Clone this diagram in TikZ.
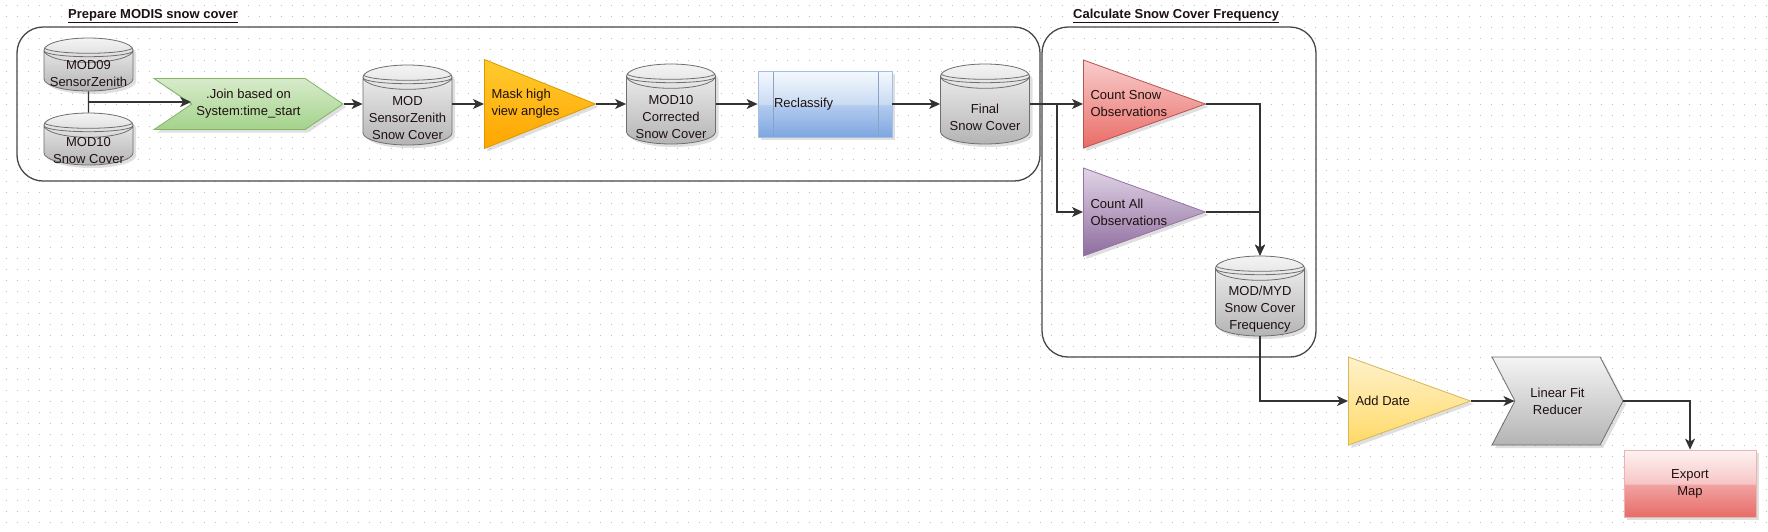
\documentclass[tikz,border=0pt]{standalone}
\usepackage{fontspec}
\setmainfont{Liberation Sans}
\usetikzlibrary{shapes.geometric,shapes.symbols,arrows.meta,shadows,calc}

\definecolor{linecol}{HTML}{333333}
\definecolor{txtcol}{HTML}{1E1010}
\definecolor{dbline}{HTML}{6E6E6E}
\definecolor{dbtop}{HTML}{F4F4F4}
\definecolor{dbbot}{HTML}{B4B4B4}
\definecolor{grnline}{HTML}{82B366}
\definecolor{grntop}{HTML}{D8EBCB}
\definecolor{grnbot}{HTML}{A3D38B}
\definecolor{orline}{HTML}{D79B00}
\definecolor{ortop}{HTML}{FFCB2E}
\definecolor{orbot}{HTML}{FFA500}
\definecolor{rdline}{HTML}{B85450}
\definecolor{rdtop}{HTML}{F8CECC}
\definecolor{rdbot}{HTML}{EA6B66}
\definecolor{puline}{HTML}{9673A6}
\definecolor{putop}{HTML}{E1D5E7}
\definecolor{pubot}{HTML}{8E6C9E}
\definecolor{ylline}{HTML}{D6B656}
\definecolor{yltop}{HTML}{FFF2CC}
\definecolor{ylbot}{HTML}{FFD966}
\definecolor{blutop}{HTML}{F5F9FE}
\definecolor{blumid}{HTML}{C9DBF3}
\definecolor{bluband}{HTML}{B2CBEF}
\definecolor{blubot}{HTML}{7EA6E0}
\definecolor{bluline}{HTML}{A3BFE8}
\definecolor{extop}{HTML}{FEF3F3}
\definecolor{exmid}{HTML}{F6C6C5}
\definecolor{exband}{HTML}{F0A3A1}
\definecolor{exbot}{HTML}{E86C68}
\definecolor{exline}{HTML}{EDB3B1}

\pgfdeclareverticalshading{glossblue}{100bp}{color(0bp)=(blubot); color(25bp)=(blubot); color(49bp)=(bluband); color(50bp)=(blumid); color(75bp)=(blutop); color(100bp)=(blutop)}
\pgfdeclareverticalshading{glossred}{100bp}{color(0bp)=(exbot); color(25bp)=(exbot); color(49bp)=(exband); color(50bp)=(exmid); color(75bp)=(extop); color(100bp)=(extop)}

\tikzstyle{shd}=[drop shadow={shadow xshift=3pt, shadow yshift=-3pt, opacity=0.25}]
\tikzstyle{db}=[cylinder, shape border rotate=90, aspect=0.32, draw=dbline, line width=0.8pt, top color=dbtop, bottom color=dbbot, minimum width=89pt, inner sep=0pt, anchor=shape center, shd,
  path picture={
    \draw[dbline, line width=0.8pt] ($(path picture bounding box.north)+(-44.5,9.3)$) arc[start angle=180, end angle=360, x radius=44.5pt, y radius=6pt];
    \draw[dbline, line width=0.8pt] ($(path picture bounding box.north)+(-44.5,12.7)$) arc[start angle=180, end angle=360, x radius=44.5pt, y radius=6pt];
  }]
\tikzstyle{dbtext}=[align=center, inner sep=0pt, yshift=-7pt]
\tikzstyle{proc}=[isosceles triangle, isosceles triangle stretches, minimum width=88pt, minimum height=122pt, inner sep=0pt, line width=0.8pt, anchor=west, shd]
\tikzstyle{proctext}=[anchor=west, align=left, xshift=4pt]
\tikzstyle{chev}=[signal, signal from=west, signal to=east, line width=0.8pt, align=center, inner sep=0pt, shd]
\tikzstyle{gloss}=[rectangle, line width=0.8pt, align=center, inner sep=0pt, shd]
\tikzstyle{grp}=[rectangle, rounded corners=26pt, draw=black!72, line width=1.3pt]
\tikzstyle{ttl}=[anchor=west, inner sep=0pt, font=\fontsize{13}{17}\selectfont\bfseries]
\tikzstyle{wire}=[draw=linecol, line width=1.2pt]
\tikzstyle{arr}=[wire, -{Stealth[length=11pt, width=10pt, inset=3pt]}]
\tikzstyle{griddot}=[draw=black!25, line width=1pt, dash pattern=on 1pt off 10pt, dash phase=5.5pt]

\begin{document}
\begin{tikzpicture}[x=1pt, y=-1pt, font=\fontsize{13}{17}\selectfont, text=txtcol]
\useasboundingbox (0,0) rectangle (1768,531);
\fill[white] (0,0) rectangle (1768,531);
\foreach \gy in {5,16,...,522}
  \draw[griddot] (0,\gy) -- (1768,\gy);

% group boxes
\node[grp, minimum width=1023pt, minimum height=154pt] (prepbox) at (528.5,104) {};
\node[grp, minimum width=274pt, minimum height=330pt] (freqbox) at (1179,192) {};
\node[ttl] (preptitle) at (68,16) {\underline{Prepare MODIS snow cover}};
\node[ttl] (freqtitle) at (1073,16) {\underline{Calculate Snow Cover Frequency}};

% prepare MODIS snow cover
\node[db, minimum height=53pt, label={[dbtext, yshift=4.5pt]center:MOD09\\SensorZenith}] (mod09) at (88.5,64.5) {\rule{76pt}{0pt}};
\node[db, minimum height=52pt, label={[dbtext, yshift=2pt]center:MOD10\\Snow Cover}] (mod10) at (88.5,139) {\rule{76pt}{0pt}};
\node[chev, draw=grnline, top color=grntop, bottom color=grnbot, signal pointer angle=68, minimum width=189pt, minimum height=51pt] (join) at (248.5,104) {.Join based on\\System:time\_start};
\node[db, minimum height=80pt, label={[dbtext]center:MOD\\SensorZenith\\Snow Cover}] (modsz) at (407.5,105) {\rule{76pt}{0pt}};
\node[proc, draw=orline, top color=ortop, bottom color=orbot, minimum width=89pt, minimum height=111pt,
  label={[proctext]west:Mask high\\view angles}] (mask) at (484,104) {};
\node[db, minimum height=80pt, label={[dbtext]center:MOD10\\Corrected\\Snow Cover}] (corr) at (671,104) {\rule{76pt}{0pt}};
\node[gloss, draw=bluline, shading=glossblue, minimum width=134pt, minimum height=66pt, text width=102pt, align=left,
  path picture={
    \draw[bluline!85!black] ([xshift=15pt]path picture bounding box.north west) -- ([xshift=15pt]path picture bounding box.south west);
    \draw[bluline!85!black] ([xshift=-14pt]path picture bounding box.north east) -- ([xshift=-14pt]path picture bounding box.south east);
  }] (reclass) at (825,104) {Reclassify};
\node[db, minimum height=80pt, label={[dbtext]center:Final\\Snow Cover}] (final) at (985,104) {\rule{76pt}{0pt}};

% snow cover frequency
\node[proc, draw=rdline, top color=rdtop, bottom color=rdbot,
  label={[proctext]west:Count Snow\\Observations}] (cntsnow) at (1083,104) {};
\node[proc, draw=puline, top color=putop, bottom color=pubot,
  label={[proctext]west:Count All\\Observations}] (cntall) at (1083,212) {};
\node[db, minimum height=80pt, label={[dbtext]center:MOD/MYD\\Snow Cover\\Frequency}] (freq) at (1260,296) {\rule{76pt}{0pt}};

% trend
\node[proc, draw=ylline, top color=yltop, bottom color=ylbot,
  label={[proctext]west:Add Date}] (adddate) at (1348,401) {};
\node[chev, draw=dbline, top color=dbtop, bottom color=dbbot, signal pointer angle=125, minimum width=131pt, minimum height=88pt] (linfit) at (1557.5,401) {Linear Fit\\Reducer};
\node[gloss, draw=exline, shading=glossred, minimum width=132pt, minimum height=67pt] (export) at (1690,483.5) {Export\\Map};

% connectors
\coordinate (jn) at ($(mod09.south)!0.5!(mod10.north)$);
\draw[wire] (mod09.south) -- (mod10.north);
\draw[arr] (jn) -- (jn -| join.west);
\draw[arr] (join.east) -- (join.east -| modsz.west);
\draw[arr] (mask.west -| modsz.east) -- (mask.west);
\draw[arr] (mask.apex) -- (mask.apex -| corr.west);
\draw[arr] (reclass.west -| corr.east) -- (reclass.west);
\draw[arr] (reclass.east) -- (reclass.east -| final.west);
\coordinate (br) at ($(cntsnow.west -| final.east)+(27,0)$);
\draw[arr] (cntsnow.west -| final.east) -- (cntsnow.west);
\draw[arr] (br) |- (cntall.west);
\draw[arr] (cntsnow.apex) -| (freq.north);
\draw[arr] (cntall.apex) -| (freq.north);
\draw[arr] (freq.south) |- (adddate.west);
\draw[arr] (adddate.apex) -- (linfit.west);
\draw[arr] (linfit.east) -| (export.north);
\end{tikzpicture}
\end{document}
